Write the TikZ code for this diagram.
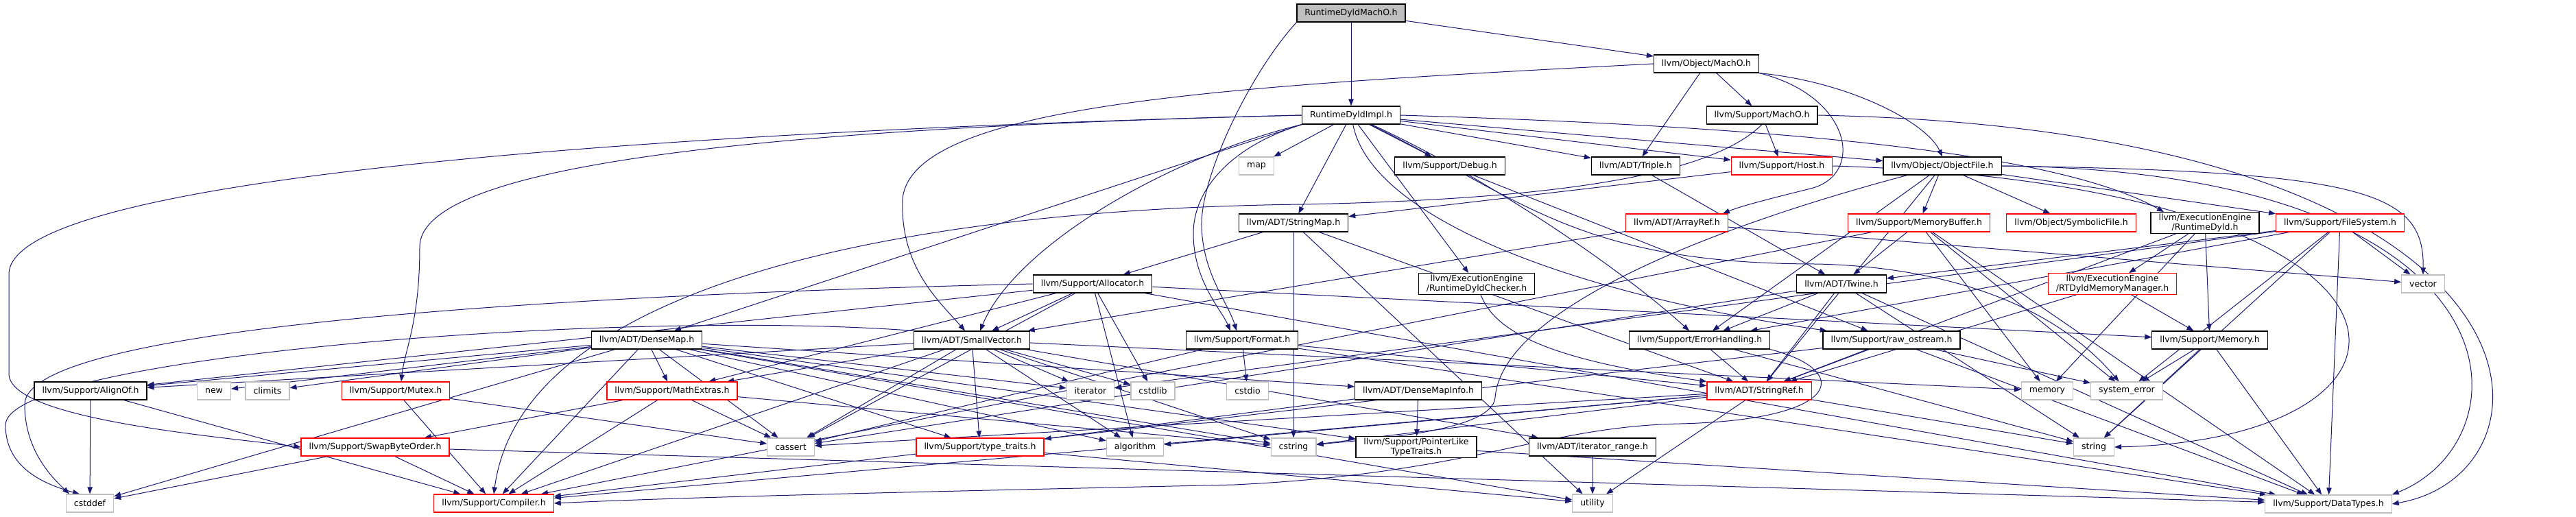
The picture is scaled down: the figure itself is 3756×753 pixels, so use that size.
\documentclass[tikz,border=0pt]{standalone}
\usepackage{fontspec}
\newfontfamily\gfont{DejaVu Sans}
\usetikzlibrary{arrows.meta,backgrounds}
\definecolor{navy}{HTML}{191970}
\definecolor{grey75}{HTML}{BFBFBF}
\tikzset{
  box/.style={draw, fill=white, line width=1.2pt, minimum height=26pt, inner xsep=11.5pt, inner ysep=2pt, align=center, font={\gfont\fontsize{12.5}{14.5}\selectfont}},
  blk/.style={box, draw=black},
  redb/.style={box, draw=red},
  sysb/.style={box, draw=grey75},
  rootb/.style={box, draw=black, fill=grey75},
  edge/.style={draw=navy, line width=1pt, -{Triangle[length=10pt,width=7.5pt]}}
}
\begin{document}
\begin{tikzpicture}[x=1pt,y=-1pt]
\useasboundingbox (0,0) rectangle (3756,753);
% rank 0-2
\node[rootb] (root) at (1970,19) {RuntimeDyldMachO.h};
\node[blk] (omacho) at (2488,93) {llvm/Object/MachO.h};
\node[blk] (impl) at (1970,168) {RuntimeDyldImpl.h};
\node[blk] (smacho) at (2569,168) {llvm/Support/MachO.h};
% rank 3
\node[sysb] (map) at (1832,242) {map};
\node[blk] (debug) at (2114,242) {llvm/Support/Debug.h};
\node[blk] (triple) at (2385,242) {llvm/ADT/Triple.h};
\node[redb] (host) at (2598,242) {llvm/Support/Host.h};
\node[blk] (objfile) at (2832,242) {llvm/Object/ObjectFile.h};
% rank 4
\node[blk] (stringmap) at (1886,325) {llvm/ADT/StringMap.h};
\node[redb] (arrayref) at (2445,325) {llvm/ADT/ArrayRef.h};
\node[redb] (membuf) at (2798,325) {llvm/Support/MemoryBuffer.h};
\node[redb] (symfile) at (3020,325) {llvm/Object/SymbolicFile.h};
\node[blk] (rtdyld) at (3215,325) {llvm/ExecutionEngine\\/RuntimeDyld.h};
\node[redb] (filesys) at (3412,325) {llvm/Support/FileSystem.h};
% rank 5
\node[blk] (alloc) at (1593,414) {llvm/Support/Allocator.h};
\node[blk] (checker) at (2153,414) {llvm/ExecutionEngine\\/RuntimeDyldChecker.h};
\node[blk] (twine) at (2685,414) {llvm/ADT/Twine.h};
\node[redb] (rtdmm) at (3080,414) {llvm/ExecutionEngine\\/RTDyldMemoryManager.h};
\node[sysb] (vector) at (3533,414) {vector};
% rank 6
\node[blk] (densemap) at (943,496) {llvm/ADT/DenseMap.h};
\node[blk] (smallvec) at (1417,496) {llvm/ADT/SmallVector.h};
\node[blk] (format) at (1811,496) {llvm/Support/Format.h};
\node[blk] (errh) at (2478,496) {llvm/Support/ErrorHandling.h};
\node[blk] (rawos) at (2758,496) {llvm/Support/raw\_ostream.h};
\node[blk] (memoryh) at (3222,496) {llvm/Support/Memory.h};
% rank 7
\node[blk] (alignof) at (132,570) {llvm/Support/AlignOf.h};
\node[sysb] (new) at (312,570) {new};
\node[sysb] (climits) at (390,570) {climits};
\node[redb] (mutex) at (577,570) {llvm/Support/Mutex.h};
\node[redb] (mathext) at (980,570) {llvm/Support/MathExtras.h};
\node[sysb] (iterator) at (1590,570) {iterator};
\node[sysb] (cstdlib) at (1681,570) {cstdlib};
\node[sysb] (cstdio) at (1819,570) {cstdio};
\node[blk] (dmi) at (2068,570) {llvm/ADT/DenseMapInfo.h};
\node[redb] (stringref) at (2565,570) {llvm/ADT/StringRef.h};
\node[sysb] (memory) at (2985,570) {memory};
\node[sysb] (syserr) at (3101,570) {system\_error};
% rank 8
\node[redb] (swap) at (547,652) {llvm/Support/SwapByteOrder.h};
\node[sysb] (cassert) at (1153,652) {cassert};
\node[redb] (typetr) at (1429,652) {llvm/Support/type\_traits.h};
\node[sysb] (algorithm) at (1655,652) {algorithm};
\node[sysb] (cstring) at (1886,652) {cstring};
\node[blk] (pltt) at (2065,652) {llvm/Support/PointerLike\\TypeTraits.h};
\node[blk] (iterrange) at (2322,652) {llvm/ADT/iterator\_range.h};
\node[sysb] (string) at (3053,652) {string};
% rank 9
\node[sysb] (cstddef) at (131,734) {cstddef};
\node[redb] (compiler) at (720,734) {llvm/Support/Compiler.h};
\node[sysb] (utility) at (2322,734) {utility};
\node[sysb] (datatypes) at (3395,735) {llvm/Support/DataTypes.h};

\begin{scope}[on background layer]
% root
\draw[edge] (root) -- (impl);
\draw[edge] (root) -- (omacho);
\draw[edge] (root.south west) .. controls (1820,110) and (1750,260) .. (1752,330) .. controls (1754,400) and (1790,440) .. ([xshift=-8pt]format.north);
% Object/MachO.h
\draw[edge] (omacho) -- (triple);
\draw[edge] (omacho) -- (smacho);
\draw[edge] (omacho.south east) .. controls (2700,120) and (2810,180) .. (objfile.north);
\draw[edge] (omacho.south east) .. controls (2700,140) and (2720,255) .. (2640,275) .. controls (2580,290) and (2540,300) .. ([xshift=-8pt]arrayref.north east);
\draw[edge] (omacho.west) .. controls (1800,125) and (1330,150) .. (1316,290) .. controls (1312,390) and (1370,440) .. ([xshift=-10pt]smallvec.north);
% Support/MachO.h
\draw[edge] (smacho) -- (host);
\draw[edge] (smacho.south) .. controls (2500,250) and (2300,290) .. (1900,298) .. controls (1300,305) and (760,420) .. (compiler.north);
\draw[edge] (smacho.east) .. controls (3750,190) and (3750,690) .. (datatypes.east);
% RuntimeDyldImpl.h
\foreach \t in {stringmap,triple,checker,objfile,debug,host,map} \draw[edge] (impl) -- (\t);
\draw[edge] (impl.south west) -- ([xshift=40pt]densemap.north);
\draw[edge] (impl.south west) .. controls (1700,230) and (1480,360) .. ([xshift=12pt]smallvec.north);
\draw[edge] (impl.south west) .. controls (1790,215) and (1740,280) .. (1740,340) .. controls (1740,410) and (1780,450) .. ([xshift=-17pt]format.north);
\draw[edge] (impl) .. controls (2150,250) and (2350,380) .. (errh);
\draw[edge] (impl) .. controls (2000,320) and (2300,430) .. (rawos);
\draw[edge] (impl) .. controls (2220,290) and (2300,385) .. (2650,385) .. controls (2850,390) and (3000,450) .. (syserr);
\draw[edge] (impl.east) .. controls (2600,185) and (3000,222) .. ([xshift=-60pt]rtdyld.north);
\draw[edge] (impl.west) .. controls (1200,185) and (612,230) .. (612,360) .. controls (612,470) and (590,510) .. ([xshift=8pt]mutex.north);
\draw[edge] (impl.west) .. controls (1200,185) and (13,240) .. (13,400) -- (13,545) .. controls (13,610) and (300,635) .. (swap.west);
% Host.h
\draw[edge] (host) -- (stringmap);
\draw[edge] (host.east) .. controls (3590,270) and (3590,640) .. (string.east);
% ObjectFile.h
\foreach \t in {stringref,symfile,errh,filesys,membuf} \draw[edge] (objfile) -- (\t);
\draw[edge] (objfile) .. controls (2500,330) and (2190,450) .. (2180,580) .. controls (2175,630) and (2000,640) .. (cstring);
\draw[edge] (objfile.east) .. controls (3690,250) and (3690,640) .. (datatypes.north east);
\draw[edge] (objfile.east) .. controls (3450,250) and (3535,280) .. (vector.north);
% misc
\draw[edge] (debug) -- (rawos);
\draw[edge] (triple) -- (twine);
\foreach \t in {smallvec,vector} \draw[edge] (arrayref) -- (\t);
\foreach \t in {stringref,alloc,cstring,utility} \draw[edge] (stringmap) -- (\t);
\foreach \t in {smallvec,alignof,datatypes,mathext,memoryh,algorithm,cassert,cstdlib} \draw[edge] (alloc) -- (\t);
\draw[edge] (alloc.west) .. controls (900,428) and (36,470) .. (36,590) .. controls (36,660) and (80,700) .. ([xshift=-30pt]cstddef.north);
\foreach \t in {stringref,rtdmm,memoryh,memory} \draw[edge] (rtdyld) -- (\t);
\draw[edge] (checker) .. controls (2180,485) and (2260,525) .. (stringref.north west);
\foreach \t in {twine,compiler,datatypes,memory,syserr} \draw[edge] (membuf) -- (\t);
\foreach \t in {twine,datatypes,errh,iterator,string,syserr,vector} \draw[edge] (filesys) -- (\t);
\foreach \t in {stringref,memoryh} \draw[edge] (rtdmm) -- (\t);
\foreach \t in {stringref,datatypes,errh,cassert,string} \draw[edge] (twine) -- (\t);
\foreach \t in {dmi,alignof,compiler,mathext,pltt,typetr,algorithm,cassert,climits,cstddef,cstring,iterator,new,utility} \draw[edge] (densemap) -- (\t);
\foreach \t in {iterrange,alignof,compiler,mathext,typetr,algorithm,cassert,cstdlib,cstring,iterator,memory} \draw[edge] (smallvec) -- (\t);
\draw[edge] (smallvec.north west) .. controls (900,450) and (8,520) .. (8,620) .. controls (8,680) and (60,705) .. ([xshift=-15pt]cstddef.north);
\foreach \t in {stringref,datatypes,cassert,cstdio} \draw[edge] (format) -- (\t);
\draw[edge] (errh) -- (stringref);
\draw[edge] (errh) -- (string);
\draw[edge] (errh.south east) .. controls (2700,540) and (2690,612) .. (2450,618) .. controls (2250,622) and (2150,690) .. (1800,707) .. controls (1300,718) and (1000,725) .. (compiler.east);
\foreach \t in {stringref,compiler,datatypes,syserr} \draw[edge] (rawos) -- (\t);
\foreach \t in {datatypes,string,syserr} \draw[edge] (memoryh) -- (\t);
\foreach \t in {compiler,cstddef} \draw[edge] (alignof) -- (\t);
\foreach \t in {compiler,cassert} \draw[edge] (mutex) -- (\t);
\foreach \t in {compiler,swap,cassert,cstring} \draw[edge] (mathext) -- (\t);
\foreach \t in {pltt,typetr} \draw[edge] (dmi) -- (\t);
\foreach \t in {compiler,algorithm,cassert,cstring,string,utility} \draw[edge] (stringref) -- (\t);
\foreach \t in {compiler,datatypes,cstddef} \draw[edge] (swap) -- (\t);
\draw[edge] (pltt) -- (datatypes);
\draw[edge] (iterrange) -- (utility);
\draw[edge] (typetr) -- (utility);
\end{scope}
\end{tikzpicture}
\end{document}
